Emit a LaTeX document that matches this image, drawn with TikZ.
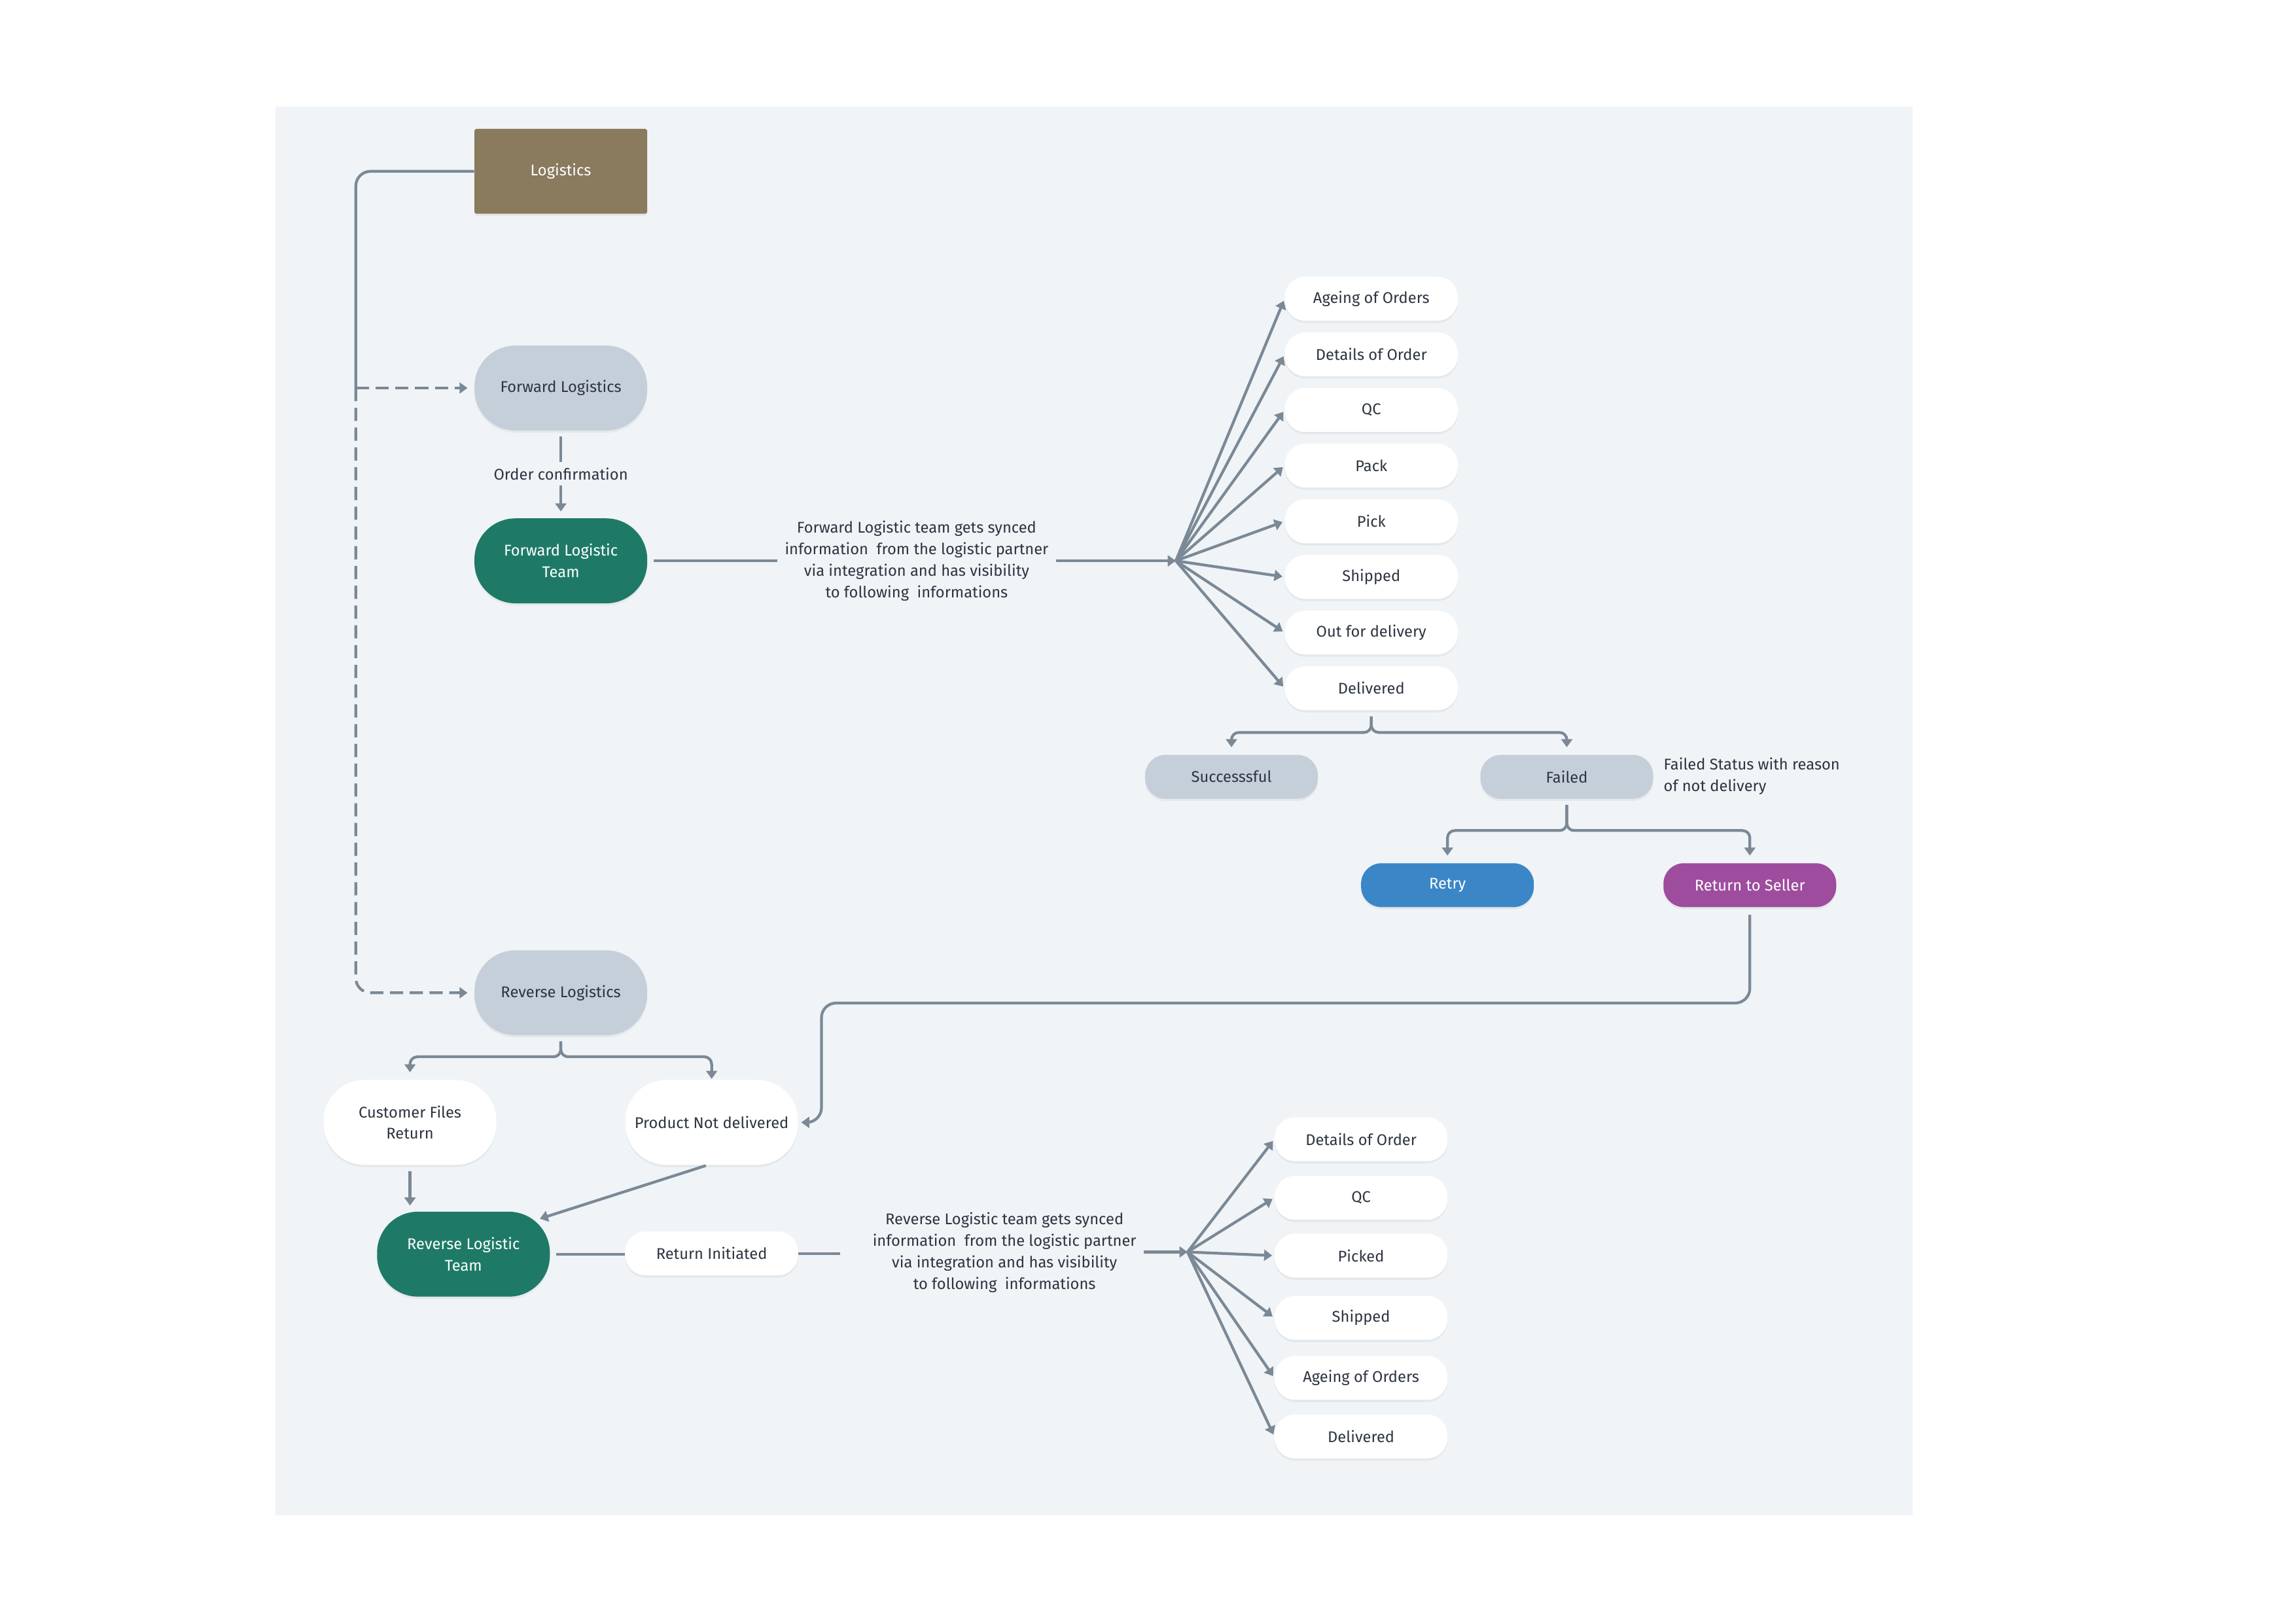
\documentclass[tikz,border=0pt]{standalone}
\usepackage{fontspec}
\setmainfont{Fira Sans}
\usetikzlibrary{arrows.meta,shadows,calc}

\definecolor{bgpanel}{HTML}{F0F4F7}
\definecolor{linegrey}{HTML}{7B8996}
\definecolor{pillgrey}{HTML}{C5CFDA}
\definecolor{teamgreen}{HTML}{1E7A67}
\definecolor{logbrown}{HTML}{8A7A5E}
\definecolor{retryblue}{HTML}{3A86C7}
\definecolor{sellerpurple}{HTML}{9E4C9E}
\definecolor{inktext}{HTML}{2D3440}

\tikzset{
    boxbase/.style={draw=none, align=center, inner sep=0pt, text=inktext,
      font=\fontsize{10.6}{14.7}\selectfont,
      drop shadow={opacity=0.10, shadow xshift=0pt, shadow yshift=-1.5pt}},
    bigpill/.style={boxbase, minimum width=118pt, minimum height=58pt, rounded corners=28pt},
    smallpill/.style={boxbase, fill=white, minimum width=118pt, minimum height=30pt, rounded corners=14pt},
    note/.style={align=center, inner xsep=5pt, inner ysep=2pt, text=inktext,
      font=\fontsize{10.6}{14.7}\selectfont},
    plainline/.style={draw=linegrey, line width=1.9pt},
    conn/.style={plainline, -{Triangle[length=5.5pt,width=7.5pt]}},
    dashconn/.style={conn, dash pattern=on 9pt off 4.5pt},
  }

\begin{document}
\begin{tikzpicture}[x=1pt,y=-1pt]
  \useasboundingbox (0,0) rectangle (1568,1109);
  \fill[bgpanel] (188,73) rectangle (1306,1035);

  % forward side
  \node[boxbase, fill=logbrown, text=white, minimum width=118pt, minimum height=58pt, rounded corners=1.5pt] (logistics) at (383,117) {Logistics};
  \node[bigpill, fill=pillgrey] (fwdlog) at (383,265) {Forward Logistics};
  \node[note, inner ysep=3.5pt] (ordconf) at (383,323.5) {Order confirmation};
  \node[bigpill, fill=teamgreen, text=white] (fwdteam) at (383,383) {Forward Logistic\\Team};
  \node[note] (fwdtext) at (626,383) {Forward Logistic team gets synced\\information\ \ from the logistic partner\\via integration and has visibility\\to following\ \ informations};
  \coordinate (split) at (243,265);
  \coordinate (fhub) at (803,383);

  \foreach \nm/\txt [count=\i from 0] in {ageing/Ageing of Orders, details/Details of Order, qc/QC, pack/Pack, pick/Pick, shipped/Shipped, outdel/Out for delivery, delivered/Delivered}
    \node[smallpill] (\nm) at (936.5,204+38*\i) {\txt};

  \node[smallpill, fill=pillgrey] (success) at (841,530.5) {Successsful};
  \node[smallpill, fill=pillgrey] (failed) at (1070,530.5) {Failed};
  \node[note, align=left, anchor=west, inner sep=0pt] (failnote) at (1136,530) {Failed Status with reason\\of not delivery};
  \node[smallpill, fill=retryblue, text=white] (retry) at (988.5,604.5) {Retry};
  \node[smallpill, fill=sellerpurple, text=white] (rts) at (1195,604.5) {Return to Seller};
  \coordinate (bend) at (561,685);

  % reverse side
  \node[bigpill, fill=pillgrey] (revlog) at (383,678) {Reverse Logistics};
  \node[bigpill, fill=white] (custret) at (280,766.5) {Customer Files\\Return};
  \node[bigpill, fill=white] (notdel) at (486,766.5) {Product Not delivered};
  \node[bigpill, fill=teamgreen, text=white] (revteam) at (316.5,856.5) {Reverse Logistic\\Team};
  \node[smallpill] (retinit) at (486,856) {Return Initiated};
  \node[note] (revtext) at (686,855.5) {Reverse Logistic team gets synced\\information\ \ from the logistic partner\\via integration and has visibility\\to following\ \ informations};
  \coordinate (rhub) at (811,855);

  \foreach \nm/\yy/\txt in {rdetails/778/Details of Order, rqc/818/QC, rpicked/857.5/Picked, rshipped/900/Shipped, rageing/941/Ageing of Orders, rdelivered/981/Delivered}
    \node[smallpill] (\nm) at (929.5,\yy) {\txt};

  % connectors
  \draw[plainline, rounded corners=10pt] (logistics.west) -| (split);
  \draw[dashconn, shorten >=4.5pt] (split) -- (fwdlog.west);
  \draw[dashconn, shorten >=4.5pt, rounded corners=10pt] (split) |- (revlog.west);

  \draw[plainline, shorten <=4pt] (fwdlog.south) -- (ordconf.north);
  \draw[conn, shorten >=4.5pt] (ordconf.south) -- (fwdteam.north);
  \draw[plainline, shorten <=4pt] (fwdteam.east) -- (fwdteam.east -| fwdtext.west);
  \draw[conn] (fwdtext.east |- fhub) -- (fhub);
  \foreach \nm in {ageing,details,qc,pack,pick,shipped,outdel,delivered}
    \draw[conn, shorten >=1.5pt] (fhub) -- (\nm.west);

  \draw[conn, rounded corners=5pt, shorten <=4pt, shorten >=5pt] (delivered.south) -- ++(0,15) -| (success.north);
  \draw[conn, rounded corners=5pt, shorten <=4pt, shorten >=5pt] (delivered.south) -- ++(0,15) -| (failed.north);
  \draw[conn, rounded corners=5pt, shorten <=4pt, shorten >=5pt] (failed.south) -- ++(0,21.5) -| (retry.north);
  \draw[conn, rounded corners=5pt, shorten <=4pt, shorten >=5pt] (failed.south) -- ++(0,21.5) -| (rts.north);
  \draw[conn, rounded corners=10pt, shorten <=5pt, shorten >=2pt] (rts.south) |- (bend) |- (notdel.east);

  \draw[conn, rounded corners=5pt, shorten <=4pt, shorten >=5pt] (revlog.south) -- ++(0,14.5) -| (custret.north);
  \draw[conn, rounded corners=5pt, shorten <=4pt, shorten >=0.5pt] (revlog.south) -- ++(0,14.5) -| (notdel.north);
  \draw[conn, shorten <=4pt, shorten >=4pt] (custret.south) -- (custret.south |- revteam.north);
  \draw[conn, shorten <=1pt] ([xshift=-3pt]notdel.south) -- ([xshift=-7pt,yshift=-5pt]revteam.north east);
  \draw[plainline, shorten <=4pt] (revteam.east) -- (revteam.east -| retinit.west);
  \draw[plainline] (retinit.east) -- ([xshift=-17pt]retinit.east -| revtext.west);
  \draw[conn] (revtext.east |- rhub) -- (rhub);
  \foreach \nm in {rdetails,rqc,rpicked,rshipped,rageing,rdelivered}
    \draw[conn, shorten >=1.5pt] (rhub) -- (\nm.west);
\end{tikzpicture}
\end{document}
